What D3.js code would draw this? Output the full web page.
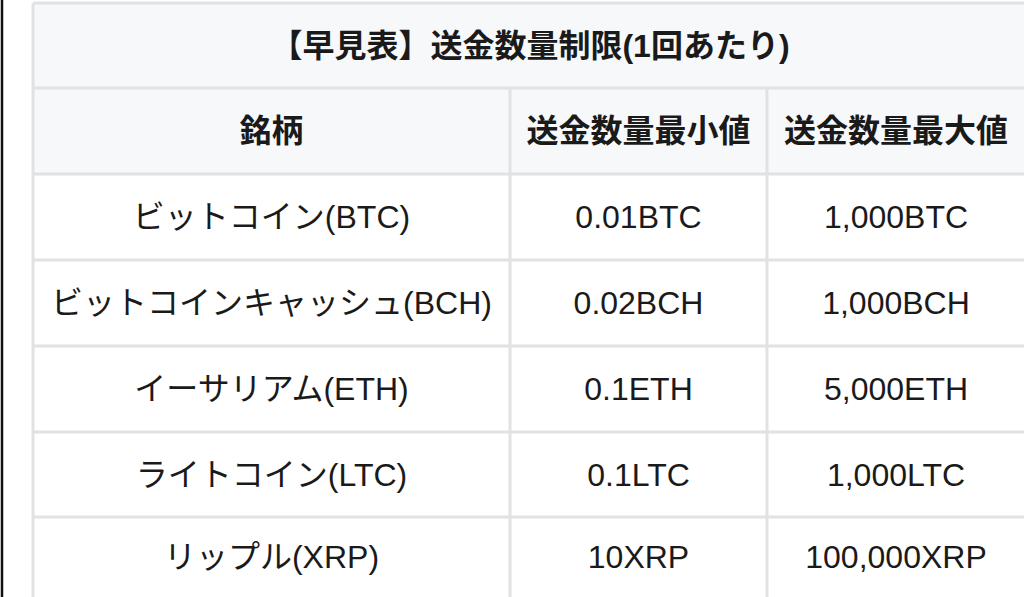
<!DOCTYPE html>
<html><head><meta charset="utf-8">
<script src="https://cdn.jsdelivr.net/npm/d3@7"></script>
<style>body{margin:0;background:#fff}svg{display:block}</style></head>
<body><svg id="c" width="1024" height="597"></svg>
<script>
const title = "【早見表】送金数量制限(1回あたり)";
const headers = ["銘柄","送金数量最小値","送金数量最大値"];
const names = ["ビットコイン(BTC)","ビットコインキャッシュ(BCH)","イーサリアム(ETH)","ライトコイン(LTC)","リップル(XRP)"];
const minVals = ["0.01BTC","0.02BCH","0.1ETH","0.1LTC","10XRP"];
const maxVals = ["1,000BTC","1,000BCH","5,000ETH","1,000LTC","100,000XRP"];

const svg = d3.select("#c");
const font = "'Liberation Sans','Noto Sans CJK JP',sans-serif";
const grid = "#e2e2e2";
svg.append("line").attr("x1",2).attr("x2",2).attr("y1",0).attr("y2",597).attr("stroke","#111").attr("stroke-width",2.5);

const colEdges = [33,510,767,1060];
const rowEdges = [3,88,174,260,346,432,517,603];
const x = i=>colEdges[i], y = i=>rowEdges[i];
const colCenter = i => i<2 ? (x(i)+x(i+1))/2 : 896;

svg.append("rect").attr("x",x(0)).attr("y",y(0)).attr("width",1100).attr("height",y(2)-y(0)).attr("fill","#f7f8fa");

svg.append("text").attr("x",530).attr("y",(y(0)+y(1))/2).attr("dy","0.35em")
  .attr("text-anchor","middle").attr("font-family",font).attr("font-weight","bold").attr("font-size",32).attr("fill","#1a1a1a").text(title);
headers.forEach((h,i)=>{
  svg.append("text").attr("x",colCenter(i)).attr("y",(y(1)+y(2))/2).attr("dy","0.35em").attr("text-anchor","middle")
    .attr("font-family",font).attr("font-weight","bold").attr("font-size",32).attr("fill","#1a1a1a").text(h);
});
names.forEach((n,r)=>{
  const cy = (y(r+2)+y(r+3))/2 - (r===4?3:0);
  [n,minVals[r],maxVals[r]].forEach((t,i)=>{
    svg.append("text").attr("x",colCenter(i)).attr("y",cy).attr("dy","0.35em").attr("text-anchor","middle")
      .attr("font-family",font).attr("font-size",32).attr("fill","#1a1a1a").text(t);
  });
});
rowEdges.slice(0,7).forEach(v=>svg.append("line").attr("x1",x(0)).attr("x2",1024).attr("y1",v).attr("y2",v).attr("stroke",grid).attr("stroke-width",3));
svg.append("line").attr("x1",x(0)).attr("x2",x(0)).attr("y1",y(0)).attr("y2",597).attr("stroke",grid).attr("stroke-width",3);
[x(1),x(2)].forEach(v=>svg.append("line").attr("x1",v).attr("x2",v).attr("y1",y(1)).attr("y2",597).attr("stroke",grid).attr("stroke-width",3));
</script></body></html>
